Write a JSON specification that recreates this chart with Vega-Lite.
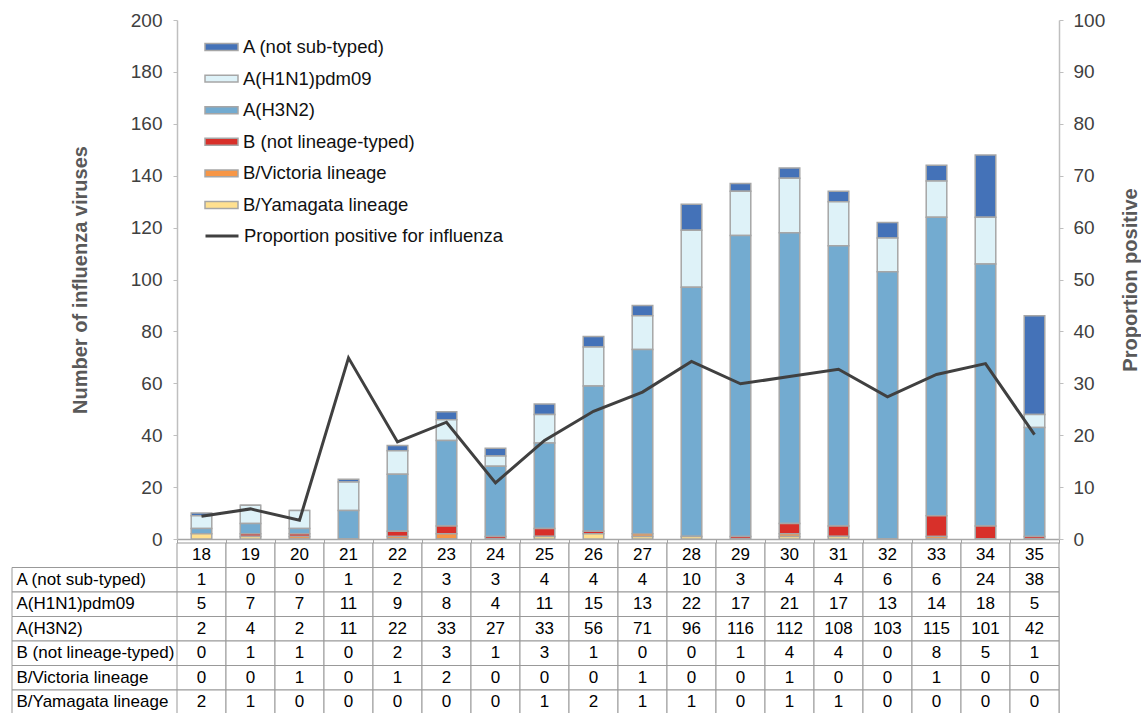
{
  "$schema": "https://vega.github.io/schema/vega-lite/v6.json",
  "padding": {"left": 11, "top": 11, "right": 0, "bottom": 0},
  "config": {
    "view": {"stroke": null},
    "font": "Liberation Sans",
    "axis": {"labelFont": "Liberation Sans", "titleFont": "Liberation Sans"},
    "legend": {"labelFont": "Liberation Sans"}
  },
  "datasets": {
    "counts": [
      {"week": 18, "series": "A (not sub-typed)", "n": 1},
      {"week": 19, "series": "A (not sub-typed)", "n": 0},
      {"week": 20, "series": "A (not sub-typed)", "n": 0},
      {"week": 21, "series": "A (not sub-typed)", "n": 1},
      {"week": 22, "series": "A (not sub-typed)", "n": 2},
      {"week": 23, "series": "A (not sub-typed)", "n": 3},
      {"week": 24, "series": "A (not sub-typed)", "n": 3},
      {"week": 25, "series": "A (not sub-typed)", "n": 4},
      {"week": 26, "series": "A (not sub-typed)", "n": 4},
      {"week": 27, "series": "A (not sub-typed)", "n": 4},
      {"week": 28, "series": "A (not sub-typed)", "n": 10},
      {"week": 29, "series": "A (not sub-typed)", "n": 3},
      {"week": 30, "series": "A (not sub-typed)", "n": 4},
      {"week": 31, "series": "A (not sub-typed)", "n": 4},
      {"week": 32, "series": "A (not sub-typed)", "n": 6},
      {"week": 33, "series": "A (not sub-typed)", "n": 6},
      {"week": 34, "series": "A (not sub-typed)", "n": 24},
      {"week": 35, "series": "A (not sub-typed)", "n": 38},
      {"week": 18, "series": "A(H1N1)pdm09", "n": 5},
      {"week": 19, "series": "A(H1N1)pdm09", "n": 7},
      {"week": 20, "series": "A(H1N1)pdm09", "n": 7},
      {"week": 21, "series": "A(H1N1)pdm09", "n": 11},
      {"week": 22, "series": "A(H1N1)pdm09", "n": 9},
      {"week": 23, "series": "A(H1N1)pdm09", "n": 8},
      {"week": 24, "series": "A(H1N1)pdm09", "n": 4},
      {"week": 25, "series": "A(H1N1)pdm09", "n": 11},
      {"week": 26, "series": "A(H1N1)pdm09", "n": 15},
      {"week": 27, "series": "A(H1N1)pdm09", "n": 13},
      {"week": 28, "series": "A(H1N1)pdm09", "n": 22},
      {"week": 29, "series": "A(H1N1)pdm09", "n": 17},
      {"week": 30, "series": "A(H1N1)pdm09", "n": 21},
      {"week": 31, "series": "A(H1N1)pdm09", "n": 17},
      {"week": 32, "series": "A(H1N1)pdm09", "n": 13},
      {"week": 33, "series": "A(H1N1)pdm09", "n": 14},
      {"week": 34, "series": "A(H1N1)pdm09", "n": 18},
      {"week": 35, "series": "A(H1N1)pdm09", "n": 5},
      {"week": 18, "series": "A(H3N2)", "n": 2},
      {"week": 19, "series": "A(H3N2)", "n": 4},
      {"week": 20, "series": "A(H3N2)", "n": 2},
      {"week": 21, "series": "A(H3N2)", "n": 11},
      {"week": 22, "series": "A(H3N2)", "n": 22},
      {"week": 23, "series": "A(H3N2)", "n": 33},
      {"week": 24, "series": "A(H3N2)", "n": 27},
      {"week": 25, "series": "A(H3N2)", "n": 33},
      {"week": 26, "series": "A(H3N2)", "n": 56},
      {"week": 27, "series": "A(H3N2)", "n": 71},
      {"week": 28, "series": "A(H3N2)", "n": 96},
      {"week": 29, "series": "A(H3N2)", "n": 116},
      {"week": 30, "series": "A(H3N2)", "n": 112},
      {"week": 31, "series": "A(H3N2)", "n": 108},
      {"week": 32, "series": "A(H3N2)", "n": 103},
      {"week": 33, "series": "A(H3N2)", "n": 115},
      {"week": 34, "series": "A(H3N2)", "n": 101},
      {"week": 35, "series": "A(H3N2)", "n": 42},
      {"week": 18, "series": "B (not lineage-typed)", "n": 0},
      {"week": 19, "series": "B (not lineage-typed)", "n": 1},
      {"week": 20, "series": "B (not lineage-typed)", "n": 1},
      {"week": 21, "series": "B (not lineage-typed)", "n": 0},
      {"week": 22, "series": "B (not lineage-typed)", "n": 2},
      {"week": 23, "series": "B (not lineage-typed)", "n": 3},
      {"week": 24, "series": "B (not lineage-typed)", "n": 1},
      {"week": 25, "series": "B (not lineage-typed)", "n": 3},
      {"week": 26, "series": "B (not lineage-typed)", "n": 1},
      {"week": 27, "series": "B (not lineage-typed)", "n": 0},
      {"week": 28, "series": "B (not lineage-typed)", "n": 0},
      {"week": 29, "series": "B (not lineage-typed)", "n": 1},
      {"week": 30, "series": "B (not lineage-typed)", "n": 4},
      {"week": 31, "series": "B (not lineage-typed)", "n": 4},
      {"week": 32, "series": "B (not lineage-typed)", "n": 0},
      {"week": 33, "series": "B (not lineage-typed)", "n": 8},
      {"week": 34, "series": "B (not lineage-typed)", "n": 5},
      {"week": 35, "series": "B (not lineage-typed)", "n": 1},
      {"week": 18, "series": "B/Victoria lineage", "n": 0},
      {"week": 19, "series": "B/Victoria lineage", "n": 0},
      {"week": 20, "series": "B/Victoria lineage", "n": 1},
      {"week": 21, "series": "B/Victoria lineage", "n": 0},
      {"week": 22, "series": "B/Victoria lineage", "n": 1},
      {"week": 23, "series": "B/Victoria lineage", "n": 2},
      {"week": 24, "series": "B/Victoria lineage", "n": 0},
      {"week": 25, "series": "B/Victoria lineage", "n": 0},
      {"week": 26, "series": "B/Victoria lineage", "n": 0},
      {"week": 27, "series": "B/Victoria lineage", "n": 1},
      {"week": 28, "series": "B/Victoria lineage", "n": 0},
      {"week": 29, "series": "B/Victoria lineage", "n": 0},
      {"week": 30, "series": "B/Victoria lineage", "n": 1},
      {"week": 31, "series": "B/Victoria lineage", "n": 0},
      {"week": 32, "series": "B/Victoria lineage", "n": 0},
      {"week": 33, "series": "B/Victoria lineage", "n": 1},
      {"week": 34, "series": "B/Victoria lineage", "n": 0},
      {"week": 35, "series": "B/Victoria lineage", "n": 0},
      {"week": 18, "series": "B/Yamagata lineage", "n": 2},
      {"week": 19, "series": "B/Yamagata lineage", "n": 1},
      {"week": 20, "series": "B/Yamagata lineage", "n": 0},
      {"week": 21, "series": "B/Yamagata lineage", "n": 0},
      {"week": 22, "series": "B/Yamagata lineage", "n": 0},
      {"week": 23, "series": "B/Yamagata lineage", "n": 0},
      {"week": 24, "series": "B/Yamagata lineage", "n": 0},
      {"week": 25, "series": "B/Yamagata lineage", "n": 1},
      {"week": 26, "series": "B/Yamagata lineage", "n": 2},
      {"week": 27, "series": "B/Yamagata lineage", "n": 1},
      {"week": 28, "series": "B/Yamagata lineage", "n": 1},
      {"week": 29, "series": "B/Yamagata lineage", "n": 0},
      {"week": 30, "series": "B/Yamagata lineage", "n": 1},
      {"week": 31, "series": "B/Yamagata lineage", "n": 1},
      {"week": 32, "series": "B/Yamagata lineage", "n": 0},
      {"week": 33, "series": "B/Yamagata lineage", "n": 0},
      {"week": 34, "series": "B/Yamagata lineage", "n": 0},
      {"week": 35, "series": "B/Yamagata lineage", "n": 0}
    ],
    "prop": [
      {"week": 18, "pct": 4.4},
      {"week": 19, "pct": 5.8},
      {"week": 20, "pct": 3.6},
      {"week": 21, "pct": 34.9},
      {"week": 22, "pct": 18.7},
      {"week": 23, "pct": 22.5},
      {"week": 24, "pct": 10.8},
      {"week": 25, "pct": 19.0},
      {"week": 26, "pct": 24.6},
      {"week": 27, "pct": 28.3},
      {"week": 28, "pct": 34.2},
      {"week": 29, "pct": 29.9},
      {"week": 30, "pct": 31.3},
      {"week": 31, "pct": 32.7},
      {"week": 32, "pct": 27.4},
      {"week": 33, "pct": 31.7},
      {"week": 34, "pct": 33.8},
      {"week": 35, "pct": 20.1}
    ]
  },
  "spacing": 4,
  "bounds": "flush",
  "resolve": {"scale": {"x": "independent", "y": "independent"}},
  "vconcat": [
    {
      "width": 1047,
      "height": 519,
      "resolve": {"scale": {"y": "independent"}},
      "layer": [
        {
          "data": {"name": "counts"},
          "mark": {"type": "bar", "width": {"band": 0.42}, "stroke": "#a6a6a6", "strokeWidth": 1.5},
          "encoding": {
            "x": {
              "field": "week", "type": "ordinal",
              "scale": {"range": [165, 1047], "paddingInner": 0, "paddingOuter": 0},
              "axis": {"title": null, "labels": false, "tickBand": "extent", "tickSize": 4, "domainColor": "#a6a6a6", "domainWidth": 1.5, "tickColor": "#a6a6a6", "grid": false}
            },
            "y": {
              "field": "n", "type": "quantitative", "stack": "zero",
              "scale": {"domain": [0, 200], "nice": false},
              "axis": {
                "title": "Number of influenza viruses", "offset": -165,
                "values": [0, 20, 40, 60, 80, 100, 120, 140, 160, 180, 200],
                "grid": false, "domainColor": "#bfbfbf", "domainWidth": 1.5, "tickColor": "#bfbfbf", "tickSize": 4,
                "labelFontSize": 19, "labelColor": "#404040", "labelPadding": 11,
                "titleFontSize": 20, "titleFontWeight": "bold", "titleColor": "#595959", "titlePadding": 40
              }
            },
            "color": {
              "field": "series", "type": "nominal",
              "scale": {
                "domain": ["A (not sub-typed)", "A(H1N1)pdm09", "A(H3N2)", "B (not lineage-typed)", "B/Victoria lineage", "B/Yamagata lineage"],
                "range": ["#4472b8", "#def2f8", "#73abd0", "#d8302a", "#f79646", "#ffe08f"]
              },
              "legend": {
                "orient": "none", "legendX": 192, "legendY": 17, "title": null, "padding": 0,
                "symbolType": "M-1,-0.21H1V0.21H-1Z", "symbolSize": 1089,
                "symbolStrokeColor": "#a6a6a6", "symbolStrokeWidth": 1.5,
                "labelFontSize": 18.5, "labelColor": "#111111", "labelOffset": 4, "labelLimit": 400,
                "clipHeight": 20, "rowPadding": 11.6
              }
            },
            "order": {"field": "series", "sort": "descending"}
          }
        },
        {
          "data": {"name": "prop"},
          "mark": {"type": "line", "strokeWidth": 3},
          "encoding": {
            "x": {"field": "week", "type": "ordinal"},
            "y": {
              "field": "pct", "type": "quantitative",
              "scale": {"domain": [0, 100], "nice": false},
              "axis": {
                "orient": "right", "title": "Proportion positive",
                "values": [0, 10, 20, 30, 40, 50, 60, 70, 80, 90, 100],
                "grid": false, "domainColor": "#bfbfbf", "domainWidth": 1.5, "tickColor": "#bfbfbf", "tickSize": 4,
                "labelFontSize": 19, "labelColor": "#404040", "labelPadding": 10,
                "titleFontSize": 20, "titleFontWeight": "bold", "titleColor": "#595959", "titlePadding": 36,
                "titleAngle": 270, "titleBaseline": "bottom"
              }
            },
            "stroke": {
              "datum": "Proportion positive for influenza", "type": "nominal",
              "scale": {"range": ["#404040"]},
              "legend": {
                "orient": "none", "legendX": 192, "legendY": 206, "title": null, "padding": 0,
                "symbolType": "stroke", "symbolSize": 1089, "symbolStrokeWidth": 3,
                "labelFontSize": 18.5, "labelColor": "#111111", "labelOffset": 4, "labelLimit": 400,
                "clipHeight": 20
              }
            }
          }
        }
      ]
    },
    {
      "width": 1047,
      "height": 171.5,
      "layer": [
        {
          "data": {"name": "counts"},
          "transform": [{"filter": "datum.week == 18"}],
          "mark": {"type": "rect", "fill": "#ffffff", "stroke": "#999999", "strokeWidth": 1},
          "encoding": {
            "y": {
              "field": "series", "type": "nominal",
              "scale": {
                "domain": ["Week", "A (not sub-typed)", "A(H1N1)pdm09", "A(H3N2)", "B (not lineage-typed)", "B/Victoria lineage", "B/Yamagata lineage"],
                "paddingInner": 0, "paddingOuter": 0
              },
              "axis": {
                "title": null, "domain": false, "ticks": false,
                "labelAlign": "left", "labelPadding": -4, "labelFontSize": 17, "labelColor": "#000000", "labelLimit": 300,
                "labelExpr": "datum.value == 'Week' ? '' : datum.value"
              }
            }
          }
        },
        {
          "data": {"name": "counts"},
          "mark": {"type": "rect", "fill": "#ffffff", "stroke": "#999999", "strokeWidth": 1},
          "encoding": {
            "x": {
              "field": "week", "type": "ordinal",
              "scale": {"range": [165, 1047], "paddingInner": 0, "paddingOuter": 0},
              "axis": null
            },
            "y": {"field": "series", "type": "nominal"}
          }
        },
        {
          "data": {"name": "counts"},
          "mark": {"type": "text", "fontSize": 17, "color": "#000000", "font": "Liberation Sans"},
          "encoding": {
            "x": {"field": "week", "type": "ordinal"},
            "y": {"field": "series", "type": "nominal"},
            "text": {"field": "n", "type": "quantitative"}
          }
        },
        {
          "data": {"name": "prop"},
          "mark": {"type": "rect", "fill": "#ffffff", "stroke": "#999999", "strokeWidth": 1},
          "encoding": {
            "x": {"field": "week", "type": "ordinal"},
            "y": {"datum": "Week", "type": "nominal"}
          }
        },
        {
          "data": {"name": "prop"},
          "mark": {"type": "text", "fontSize": 17, "color": "#000000", "font": "Liberation Sans"},
          "encoding": {
            "x": {"field": "week", "type": "ordinal"},
            "y": {"datum": "Week", "type": "nominal"},
            "text": {"field": "week", "type": "nominal"}
          }
        }
      ]
    }
  ]
}
